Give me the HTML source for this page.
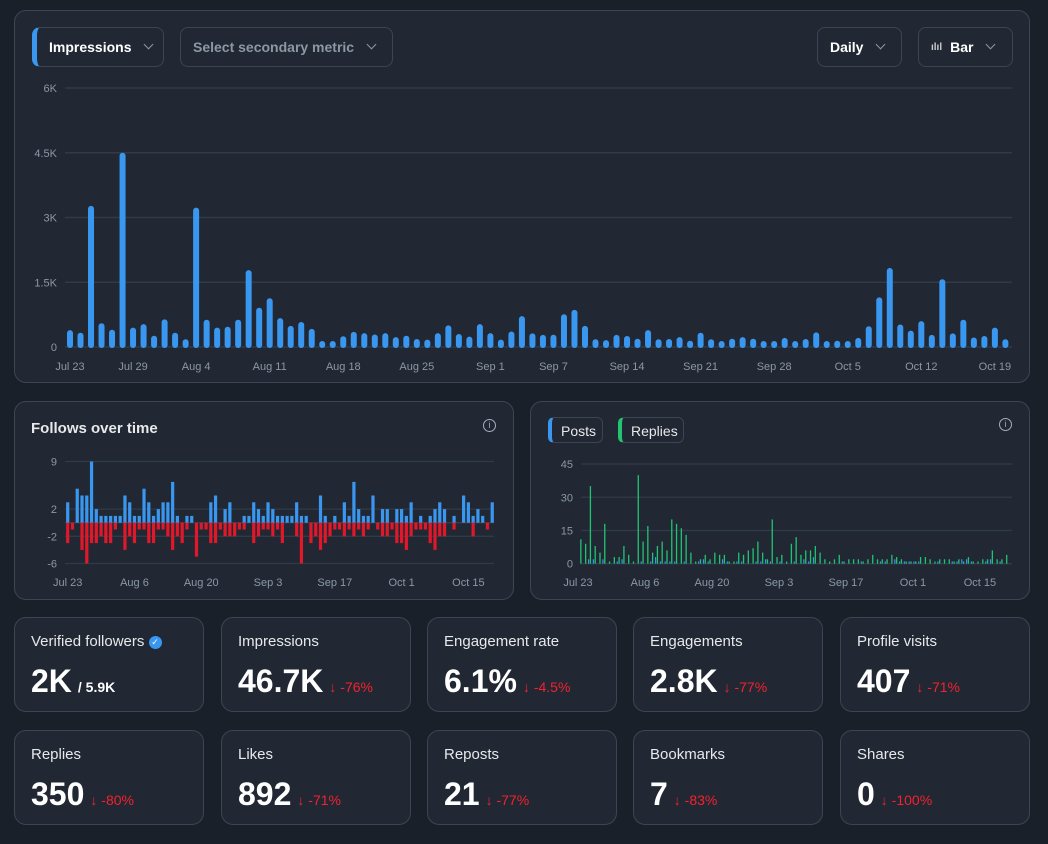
<!DOCTYPE html>
<html><head><meta charset="utf-8"><style>
*{box-sizing:border-box;margin:0;padding:0}
body{width:1048px;height:844px;background:#19202a;font-family:"Liberation Sans",sans-serif;color:#e7e9ea;position:relative;overflow:hidden}
.card{position:absolute;background:#212833;border:1px solid #3b4553;border-radius:12px}
.btn{position:absolute;border:1px solid #3b4553;border-radius:8px;font-size:14px;font-weight:bold;display:flex;align-items:center;padding-left:12px}
.chev{display:inline-block;width:7px;height:7px;border-right:1.5px solid #8b98a5;border-bottom:1.5px solid #8b98a5;transform:rotate(45deg);margin-left:14px;margin-top:-5px}
.stat .t{position:absolute;left:16px;top:15px;font-size:15px;color:#e7e9ea}
.stat .v{position:absolute;left:16px;top:45px;font-size:32px;font-weight:bold;color:#fff;white-space:nowrap}
.stat .d{font-size:14px;font-weight:normal;color:#f4212e;margin-left:6px}
.stat .s{font-size:14px;font-weight:bold;margin-left:6px}
svg text{font-family:"Liberation Sans",sans-serif;font-size:11px;fill:#8b98a5}
</style></head><body>
<div class="card" style="left:14px;top:10px;width:1016px;height:373px"></div>
<div class="btn" style="left:32px;top:27px;width:132px;height:40px;border-left:5px solid #3a97f0;color:#fff">Impressions<span class="chev"></span></div>
<div class="btn" style="left:180px;top:27px;width:213px;height:40px;color:#8b98a5">Select secondary metric<span class="chev"></span></div>
<div class="btn" style="left:817px;top:27px;width:85px;height:40px;color:#fff">Daily<span class="chev"></span></div>
<div class="btn" style="left:918px;top:27px;width:95px;height:40px;color:#fff"><span style="font-size:10px;color:#ccc;margin-right:8px">ılıl</span>Bar<span class="chev"></span></div>
<svg id="main" style="position:absolute;left:0;top:0" width="1048" height="390"></svg>

<div class="card" style="left:14px;top:401px;width:500px;height:199px"></div>
<div style="position:absolute;left:31px;top:420px;font-size:15px;font-weight:bold">Follows over time</div>
<div style="position:absolute;left:483px;top:419px;width:13px;height:13px;border:1.3px solid #aab;border-radius:50%;font-size:9px;text-align:center;line-height:11px;color:#aab">i</div>
<svg id="fol" style="position:absolute;left:0;top:0" width="520" height="600"></svg>

<div class="card" style="left:530px;top:401px;width:500px;height:199px"></div>
<div style="position:absolute;left:548px;top:417px;width:55px;height:26px;border:1px solid #3b4553;border-radius:6px;font-size:14px;padding:5px 0 0 9px;border-left:4px solid #3a97f0">Posts</div>
<div style="position:absolute;left:618px;top:417px;width:66px;height:26px;border:1px solid #3b4553;border-radius:6px;font-size:14px;padding:5px 0 0 9px;border-left:4px solid #22c373">Replies</div>
<div style="position:absolute;left:999px;top:418px;width:13px;height:13px;border:1.3px solid #aab;border-radius:50%;font-size:9px;text-align:center;line-height:11px;color:#aab">i</div>
<svg id="pr" style="position:absolute;left:0;top:0" width="1048" height="600"></svg>

<div id="stats"></div>
<script>
const NS='http://www.w3.org/2000/svg';
function mk(svg,tag,attrs,txt){const e=document.createElementNS(NS,tag);for(const k in attrs)e.setAttribute(k,attrs[k]);if(txt!==undefined)e.textContent=txt;svg.appendChild(e);return e;}
const impressions=[390,330,3270,550,400,4500,450,530,260,640,330,180,3230,630,450,470,630,1780,910,1130,670,490,580,420,130,140,250,350,320,290,320,230,260,185,170,320,500,300,240,530,320,170,360,715,315,280,285,760,860,490,180,160,280,255,190,390,180,185,230,145,330,180,140,190,230,190,120,120,210,85,185,340,130,145,110,210,480,1150,1830,520,380,600,280,1570,315,630,220,255,450,180];
const mainTicks=[0,1500,3000,4500,6000];
const mainTickLabels=['0','1.5K','3K','4.5K','6K'];
const mainXLabels=['Jul 23','Jul 29','Aug 4','Aug 11','Aug 18','Aug 25','Sep 1','Sep 7','Sep 14','Sep 21','Sep 28','Oct 5','Oct 12','Oct 19'];
const mainXLabelIdx=[0,6,12,19,26,33,40,46,53,60,67,74,81,88];
{
 const s=document.getElementById('main');
 const y=v=>347-v/6000*259, x=i=>70+i*10.51;
 mainTicks.forEach((t,k)=>{
  const g=mk(s,'line',{x1:65,x2:1012,y1:y(t),y2:y(t),stroke:'#2f3b47','stroke-width':1.5});
  
  const l=mk(s,'text',{x:57,y:y(t)+4,'text-anchor':'end'},mainTickLabels[k]);
  
 });
 impressions.forEach((v,i)=>{
  const h=Math.max(6,347-y(v));
  const r=mk(s,'rect',{x:x(i)-3,y:347-h,width:6,height:h+1,rx:3,fill:'#3a97f0'});
  
 });
 mainXLabels.forEach((lb,k)=>{
  const t=mk(s,'text',{x:x(mainXLabelIdx[k]),y:370,'text-anchor':'middle'},lb);
  
 });
}
const follows=[3,0,5,4,4,9,2,1,1,1,1,1,4,3,1,1,5,3,1,2,3,3,6,1,0,1,1,0,0,0,3,4,0,2,3,0,0,1,1,3,2,1,3,2,1,1,1,1,3,1,1,0,0,4,1,0,1,0,3,1,6,2,1,1,4,0,2,2,0,2,2,1,3,0,1,0,1,2,3,2,0,1,0,4,3,1,2,1,0,3];
const unfollows=[-3,-1,0,-4,-6,-3,-3,-2,-3,-3,-1,0,-4,-2,-3,-1,-1,-3,-3,-1,-1,-2,-4,-2,-3,-1,0,-5,-1,-1,-3,-3,-1,-2,-2,-2,-1,-1,0,-3,-2,-1,-1,-2,-1,-3,0,0,-2,-6,0,-3,-2,-4,-3,-2,-1,-1,-2,-1,-2,-1,-2,-1,0,-1,-2,-2,-1,-3,-3,-4,-2,-1,-1,-1,-3,-4,-2,-2,0,-1,0,0,0,-2,0,0,-1,0];
const folTicks=[9,2,-2,-6];
const folXLabels=['Jul 23','Aug 6','Aug 20','Sep 3','Sep 17','Oct 1','Oct 15'];
{
 const s=document.getElementById('fol');
 const y=v=>522.7-v*6.8, x=i=>67.7+i*4.77;
 folTicks.forEach(t=>{
  const g=mk(s,'line',{x1:65,x2:494,y1:y(t),y2:y(t),stroke:'#2f3b47','stroke-width':1.3});
  
  const l=mk(s,'text',{x:57,y:y(t)+4,'text-anchor':'end'},String(t));
  
 });
 mk(s,'line',{x1:65,x2:494,y1:y(0),y2:y(0),stroke:'#3a4656','stroke-width':1});
 follows.forEach((v,i)=>{if(v>0){const r=mk(s,'rect',{x:x(i)-1.6,y:y(v),width:3.2,height:v*6.8,fill:'#3a97f0'});
  }});
 unfollows.forEach((v,i)=>{if(v<0){const r=mk(s,'rect',{x:x(i)-1.6,y:y(0),width:3.2,height:-v*6.8,fill:'#e0182a'});
  }});
 folXLabels.forEach((lb,k)=>{
  const t=mk(s,'text',{x:x(k*14),y:586,'text-anchor':'middle'},lb);
  
 });
}
const replies=[11,9,35,8,5,18,1,3,3,8,4,1,40,10,17,5,8,10,6,20,18,16,13,5,1,2,4,2,5,4,4,1,1,5,4,6,7,10,5,2,20,3,4,1,9,12,4,6,6,8,5,2,1,2,4,1,2,2,2,1,2,4,2,2,2,4,3,2,1,1,1,3,3,2,1,2,2,2,1,2,1,3,1,1,2,2,6,2,2,4];
const posts=[0,0,2,2,0,2,0,0,1,2,0,0,0,1,0,1,3,1,1,1,1,0,1,0,0,1,2,1,0,0,2,1,0,1,1,0,0,1,1,2,1,0,1,0,0,1,0,2,1,3,0,0,0,0,0,1,0,0,0,1,0,0,0,1,1,0,2,1,1,1,1,1,0,0,0,1,0,0,1,1,2,2,1,0,0,1,2,0,1,0];
const prTicks=[0,15,30,45];
const prXLabels=['Jul 23','Aug 6','Aug 20','Sep 3','Sep 17','Oct 1','Oct 15'];
{
 const s=document.getElementById('pr');
 const y=v=>563.7-v*2.215, x=i=>580+i*4.785;
 prTicks.forEach(t=>{
  const g=mk(s,'line',{x1:581,x2:1012,y1:y(t),y2:y(t),stroke:'#2f3b47','stroke-width':1.3});
  
  const l=mk(s,'text',{x:573,y:y(t)+4,'text-anchor':'end'},String(t));
  
 });
 posts.forEach((v,i)=>{if(v>0){const r=mk(s,'rect',{x:x(i)-1.6,y:y(v),width:1.2,height:v*2.215,fill:'#3a97f0'});
  }});
 replies.forEach((v,i)=>{if(v>0){const r=mk(s,'rect',{x:x(i)+0.2,y:y(v),width:1.3,height:v*2.215,fill:'#22c373'});
  }});
 prXLabels.forEach((lb,k)=>{
  const t=mk(s,'text',{x:x(k*14)-2,y:586,'text-anchor':'middle'},lb);
  
 });
}
const statTitles=['Verified followers','Impressions','Engagement rate','Engagements','Profile visits','Replies','Likes','Reposts','Bookmarks','Shares'];
const statValues=['2K','46.7K','6.1%','2.8K','407','350','892','21','7','0'];
const statDeltas=['','-76%','-4.5%','-77%','-71%','-80%','-71%','-77%','-83%','-100%'];
const colX=[14,221,427,633,840];
const st=document.getElementById('stats');
statTitles.forEach((t,i)=>{
 const c=document.createElement('div');
 c.className='card stat';
 
 
 c.style.left=colX[i%5]+'px';c.style.top=(i<5?617:730)+'px';c.style.width='190px';c.style.height='95px';
 const title=t+(i===0?' <span style="display:inline-block;width:13px;height:13px;border-radius:50%;background:#3a97f0;color:#fff;font-size:9px;text-align:center;line-height:13px;vertical-align:1px">✓</span>':'');
 const extra=i===0?'<span class="s">/ 5.9K</span>':'<span class="d">↓ '+statDeltas[i]+'</span>';
 c.innerHTML='<div class="t">'+title+'</div><div class="v">'+statValues[i]+extra+'</div>';
 st.appendChild(c);
});
</script>
</body></html>
